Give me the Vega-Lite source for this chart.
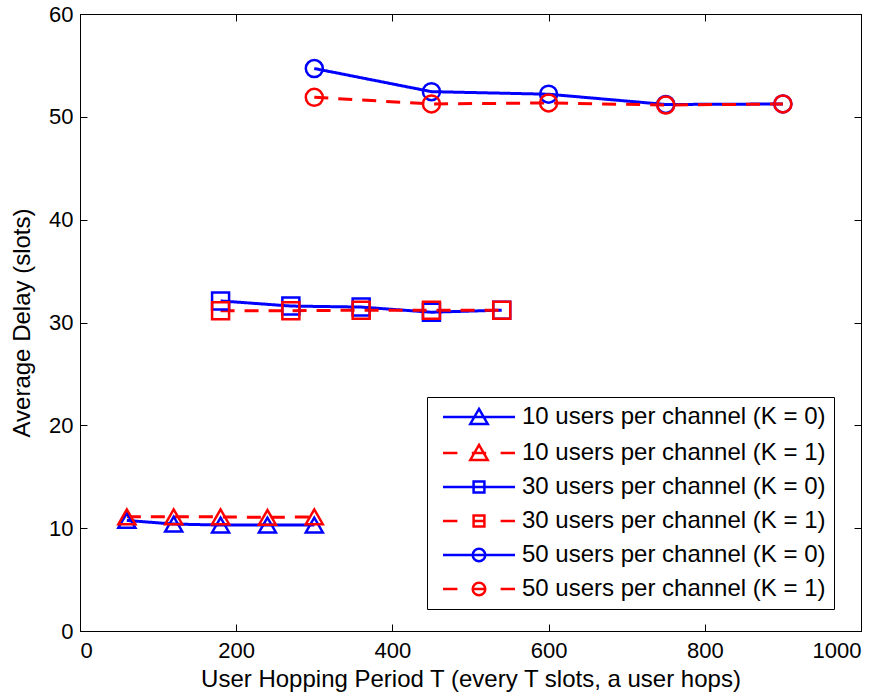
{
  "$schema": "https://vega.github.io/schema/vega-lite/v6.json",
  "autosize": {"type": "none"},
  "padding": {"left": 80, "top": 14, "right": 30, "bottom": 69},
  "width": 781,
  "height": 617,
  "background": "white",
  "config": {
    "font": "Liberation Sans",
    "view": {"stroke": "black", "strokeWidth": 1},
    "axis": {"labelFont": "Liberation Sans", "titleFont": "Liberation Sans", "labelColor": "black", "titleColor": "black", "domainColor": "black", "tickColor": "black", "grid": false, "titleFontWeight": "normal", "labelFontSize": 22, "titleFontSize": 24},
    "legend": {"labelFont": "Liberation Sans", "labelColor": "black"}
  },
  "datasets": {
    "d": [
      {"s": "10 users per channel (K = 0)", "x": 60, "y": 10.75},
      {"s": "10 users per channel (K = 0)", "x": 120, "y": 10.4},
      {"s": "10 users per channel (K = 0)", "x": 180, "y": 10.3},
      {"s": "10 users per channel (K = 0)", "x": 240, "y": 10.3},
      {"s": "10 users per channel (K = 0)", "x": 300, "y": 10.3},
      {"s": "10 users per channel (K = 1)", "x": 60, "y": 11.1},
      {"s": "10 users per channel (K = 1)", "x": 120, "y": 11.1},
      {"s": "10 users per channel (K = 1)", "x": 180, "y": 11.1},
      {"s": "10 users per channel (K = 1)", "x": 240, "y": 11.05},
      {"s": "10 users per channel (K = 1)", "x": 300, "y": 11.1},
      {"s": "30 users per channel (K = 0)", "x": 180, "y": 32.1},
      {"s": "30 users per channel (K = 0)", "x": 270, "y": 31.6},
      {"s": "30 users per channel (K = 0)", "x": 360, "y": 31.5},
      {"s": "30 users per channel (K = 0)", "x": 450, "y": 31.0},
      {"s": "30 users per channel (K = 0)", "x": 540, "y": 31.2},
      {"s": "30 users per channel (K = 1)", "x": 180, "y": 31.15},
      {"s": "30 users per channel (K = 1)", "x": 270, "y": 31.15},
      {"s": "30 users per channel (K = 1)", "x": 360, "y": 31.2},
      {"s": "30 users per channel (K = 1)", "x": 450, "y": 31.2},
      {"s": "30 users per channel (K = 1)", "x": 540, "y": 31.2},
      {"s": "50 users per channel (K = 0)", "x": 300, "y": 54.7},
      {"s": "50 users per channel (K = 0)", "x": 450, "y": 52.45},
      {"s": "50 users per channel (K = 0)", "x": 600, "y": 52.2},
      {"s": "50 users per channel (K = 0)", "x": 750, "y": 51.2},
      {"s": "50 users per channel (K = 0)", "x": 900, "y": 51.25},
      {"s": "50 users per channel (K = 1)", "x": 300, "y": 51.9},
      {"s": "50 users per channel (K = 1)", "x": 450, "y": 51.25},
      {"s": "50 users per channel (K = 1)", "x": 600, "y": 51.35},
      {"s": "50 users per channel (K = 1)", "x": 750, "y": 51.15},
      {"s": "50 users per channel (K = 1)", "x": 900, "y": 51.25}
    ]
  },
  "data": {"name": "d"},
  "resolve": {
    "scale": {"color": "independent", "shape": "independent", "size": "independent", "strokeDash": "independent"},
    "axis": {"x": "independent", "y": "independent"}
  },
  "layer": [
    {
      "mark": {"type": "line", "strokeWidth": 3},
      "encoding": {
        "x": {"field": "x", "type": "quantitative", "scale": {"domain": [0, 1000], "nice": false},
              "axis": {"orient": "bottom", "title": "User Hopping Period T (every T slots, a user hops)", "values": [0, 200, 400, 600, 800, 1000], "format": "d", "tickSize": -7, "labelPadding": 16, "titlePadding": 6}},
        "y": {"field": "y", "type": "quantitative", "scale": {"domain": [0, 60], "nice": false},
              "axis": {"orient": "left", "title": "Average Delay (slots)", "values": [0, 10, 20, 30, 40, 50, 60], "tickSize": -7, "labelPadding": 14, "titlePadding": 14}},
        "color": {"field": "s", "type": "nominal", "legend": null,
                  "scale": {"domain": ["10 users per channel (K = 0)", "10 users per channel (K = 1)", "30 users per channel (K = 0)", "30 users per channel (K = 1)", "50 users per channel (K = 0)", "50 users per channel (K = 1)"],
                            "range": ["#0000ff", "#ff0000", "#0000ff", "#ff0000", "#0000ff", "#ff0000"]}},
        "strokeDash": {"field": "s", "type": "nominal", "legend": null,
                  "scale": {"domain": ["10 users per channel (K = 0)", "10 users per channel (K = 1)", "30 users per channel (K = 0)", "30 users per channel (K = 1)", "50 users per channel (K = 0)", "50 users per channel (K = 1)"],
                            "range": [[1, 0], [14, 10], [1, 0], [14, 10], [1, 0], [14, 10]]}}
      }
    },
    {
      "mark": {"type": "point", "filled": false, "strokeWidth": 2.5, "opacity": 1},
      "encoding": {
        "x": {"field": "x", "type": "quantitative", "axis": {"orient": "top", "title": null, "labels": false, "values": [0, 200, 400, 600, 800, 1000], "tickSize": -7}},
        "y": {"field": "y", "type": "quantitative", "axis": {"orient": "right", "title": null, "labels": false, "values": [0, 10, 20, 30, 40, 50, 60], "tickSize": -7}},
        "color": {"field": "s", "type": "nominal", "legend": null,
                  "scale": {"domain": ["10 users per channel (K = 0)", "10 users per channel (K = 1)", "30 users per channel (K = 0)", "30 users per channel (K = 1)", "50 users per channel (K = 0)", "50 users per channel (K = 1)"],
                            "range": ["#0000ff", "#ff0000", "#0000ff", "#ff0000", "#0000ff", "#ff0000"]}},
        "shape": {"field": "s", "type": "nominal", "legend": null,
                  "scale": {"domain": ["10 users per channel (K = 0)", "10 users per channel (K = 1)", "30 users per channel (K = 0)", "30 users per channel (K = 1)", "50 users per channel (K = 0)", "50 users per channel (K = 1)"],
                            "range": ["triangle-up", "triangle-up", "square", "square", "circle", "circle"]}},
        "size": {"field": "s", "type": "ordinal", "legend": null,
                  "scale": {"domain": ["10 users per channel (K = 0)", "10 users per channel (K = 1)", "30 users per channel (K = 0)", "30 users per channel (K = 1)", "50 users per channel (K = 0)", "50 users per channel (K = 1)"],
                            "range": [289, 289, 169, 169, 160, 160]}}
      }
    },
    {
      "transform": [{"filter": "false"}],
      "mark": {"type": "point", "filled": false, "strokeWidth": 2.5, "size": 144, "opacity": 1},
      "encoding": {
        "x": {"field": "x", "type": "quantitative", "axis": null},
        "y": {"field": "y", "type": "quantitative", "axis": null},
        "color": {"field": "s", "type": "nominal",
                  "scale": {"domain": ["10 users per channel (K = 0)", "10 users per channel (K = 1)", "30 users per channel (K = 0)", "30 users per channel (K = 1)", "50 users per channel (K = 0)", "50 users per channel (K = 1)"],
                            "range": ["#0000ff", "#ff0000", "#0000ff", "#ff0000", "#0000ff", "#ff0000"]},
                  "legend": {"title": null, "orient": "none", "legendX": 347, "legendY": 383, "strokeColor": "black", "fillColor": "white", "padding": 8,
                             "labelFontSize": 24, "labelLimit": 500, "symbolStrokeWidth": 2.5, "symbolSize": 144, "symbolOpacity": 1, "symbolOffset": 32, "labelOffset": 31, "rowPadding": 10}},
        "shape": {"field": "s", "type": "nominal",
                  "scale": {"domain": ["10 users per channel (K = 0)", "10 users per channel (K = 1)", "30 users per channel (K = 0)", "30 users per channel (K = 1)", "50 users per channel (K = 0)", "50 users per channel (K = 1)"],
                            "range": [
                              "M-6,0H6M0,-1.35L1.45,1.15L-1.45,1.15Z",
                              "M-6,0H-3.6M-1.2,0H1.2M3.6,0H6M0,-1.35L1.45,1.15L-1.45,1.15Z",
                              "M-6,0H6M-0.9,-0.9H0.9V0.9H-0.9Z",
                              "M-6,0H-3.6M-0.9,0H0.9M3.6,0H6M-0.9,-0.9H0.9V0.9H-0.9Z",
                              "M-6,0H6M-1.05,0A1.05,1.05,0,1,0,1.05,0A1.05,1.05,0,1,0,-1.05,0Z",
                              "M-6,0H-3.6M-1.05,0H1.05M3.6,0H6M-1.05,0A1.05,1.05,0,1,0,1.05,0A1.05,1.05,0,1,0,-1.05,0Z"
                            ]},
                  "legend": {"title": null}}
      }
    }
  ]
}
